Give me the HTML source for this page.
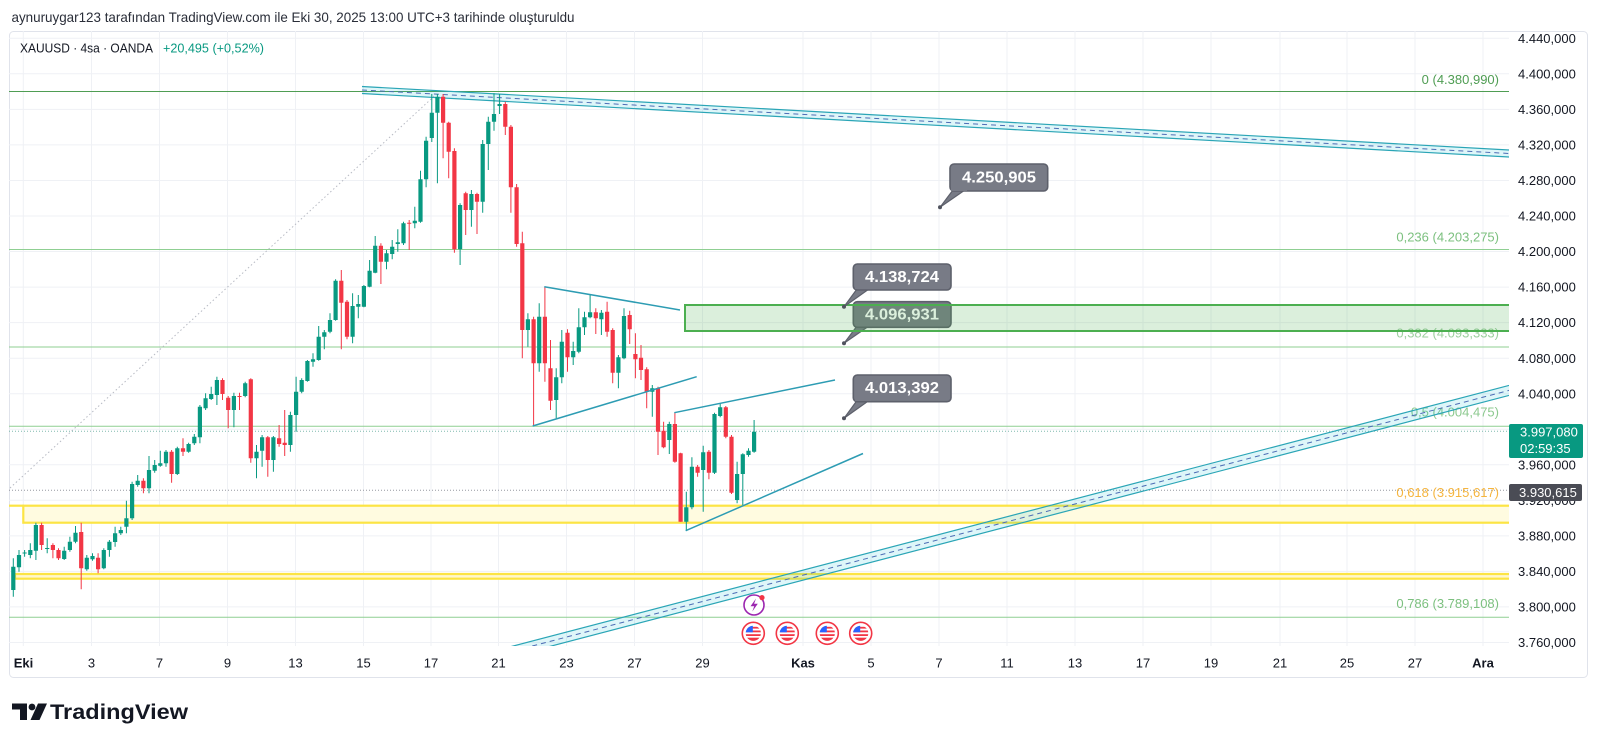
<!DOCTYPE html>
<html><head><meta charset="utf-8"><style>
html,body{margin:0;padding:0;background:#fff;}
svg{display:block;font-family:"Liberation Sans",sans-serif;}
</style></head><body>
<svg width="1600" height="745" viewBox="0 0 1600 745" xmlns="http://www.w3.org/2000/svg">
<defs>
<clipPath id="plot"><rect x="9" y="31" width="1500" height="615"/></clipPath>
<clipPath id="fc"><circle cx="0" cy="0" r="7.6"/></clipPath>
<symbol id="flag" viewBox="-12 -12 24 24" overflow="visible">
<circle r="11" fill="#fff" stroke="#f23645" stroke-width="1.6"/>
<g clip-path="url(#fc)">
<rect x="-8" y="-8" width="16" height="16" fill="#fff"/>
<rect x="-8" y="-6.5" width="16" height="1.8" fill="#f23645"/>
<rect x="-8" y="-2.8" width="16" height="1.8" fill="#f23645"/>
<rect x="-8" y="0.9" width="16" height="1.8" fill="#f23645"/>
<rect x="-8" y="4.4" width="16" height="4" fill="#f23645"/>
<rect x="-8" y="-8" width="7.5" height="7" fill="#2962ff"/>
</g>
</symbol>
</defs>
<rect width="1600" height="745" fill="#fff"/>
<text x="11.5" y="22" font-size="14" fill="#2a2e39" textLength="563" lengthAdjust="spacingAndGlyphs">aynuruygar123 tarafından TradingView.com ile Eki 30, 2025 13:00 UTC+3 tarihinde oluşturuldu</text>
<rect x="9.5" y="31.5" width="1578" height="646" rx="4" fill="none" stroke="#e0e3eb"/>
<g stroke="#eff1f5" stroke-width="1">
<path d="M9 38.3H1509M9 73.8H1509M9 109.4H1509M9 144.9H1509M9 180.5H1509M9 216H1509M9 251.5H1509M9 287.1H1509M9 322.6H1509M9 358.2H1509M9 393.7H1509M9 429.2H1509M9 464.8H1509M9 500.3H1509M9 535.9H1509M9 571.4H1509M9 606.9H1509M9 642.5H1509"/>
<path d="M23.3 31V646M91.5 31V646M159.5 31V646M227.5 31V646M295.5 31V646M363.5 31V646M431 31V646M498.5 31V646M566.5 31V646M634.5 31V646M702.5 31V646M803 31V646M871 31V646M939 31V646M1007 31V646M1075 31V646M1143 31V646M1211 31V646M1280 31V646M1347 31V646M1415 31V646M1483 31V646"/>
</g>
<g clip-path="url(#plot)">
<!-- fib lines -->
<path d="M9 91.5H1509" stroke="#4f9d53" stroke-width="1"/>
<path d="M9 249.5H1509M9 347H1509M9 426.3H1509M9 617.3H1509" stroke="#8fcf92" stroke-width="1"/>
<path d="M10 488L436.5 94" stroke="#b8bbc4" stroke-width="1" stroke-dasharray="1.5 2.5"/>
<!-- price lines -->
<path d="M9 431.3H1509" stroke="#7fb9ad" stroke-width="1" stroke-dasharray="1 2"/>
<path d="M9 490.3H1509" stroke="#9598a1" stroke-width="1" stroke-dasharray="1 2"/>
<!-- fib labels -->
<g font-size="13" text-anchor="end">
<text x="1499" y="84" fill="#4f9d53">0 (4.380,990)</text>
<text x="1499" y="241.4" fill="#7cc07f">0,236 (4.203,275)</text>
<text x="1499" y="337.7" fill="#9ccf9e">0,382 (4.093,333)</text>
<text x="1499" y="416.4" fill="#8cc98f">0,5 (4.004,475)</text>
<text x="1499" y="497" fill="#f5b53f">0,618 (3.915,617)</text>
<text x="1499" y="608" fill="#7cc07f">0,786 (3.789,108)</text>
</g>
<!-- yellow boxes -->
<rect x="23.3" y="505.7" width="1490" height="17" fill="#fffbe0" stroke="#fce444" stroke-width="2.2"/>
<path d="M9 505.7H24" stroke="#fce444" stroke-width="2.2"/>
<rect x="15" y="574" width="1500" height="4.7" fill="#fff7cc" stroke="#fce444" stroke-width="2.2"/>
<!-- channels -->
<polygon points="362,86.5 1509,150 1509,157 362,93.5" fill="#00bcd4" fill-opacity="0.13"/>
<path d="M362 86.5L1509 150M362 93.5L1509 157" stroke="#2aa5b6" stroke-width="1.2" fill="none"/>
<path d="M362 90L1509 153.5" stroke="#4d6db5" stroke-width="1" stroke-dasharray="5 4"/>
<polygon points="480,654.7 1509,385.4 1509,395.4 480,664.7" fill="#00bcd4" fill-opacity="0.13"/>
<path d="M480 654.7L1509 385.4M480 664.7L1509 395.4" stroke="#2aa5b6" stroke-width="1.2" fill="none"/>
<path d="M480 659.7L1509 390.4" stroke="#4d6db5" stroke-width="1" stroke-dasharray="5 4"/>
<!-- candles -->
<path stroke="#089981" stroke-width="1" fill="none" d="M13.3 558.3V596.7M19 550V571.7M24.6 550V556.7M30.3 543.3V558.3M35.9 522.7V560M47.2 538.3V553.3M64.2 546.7V560M69.9 536.7V551.7M75.5 526V543.3M86.8 555V570.7M92.5 553.3V560.7M103.8 548.3V569.3M109.4 540V556.7M115.1 526.7V546.7M120.8 526.7V535M126.4 500.7V533.3M132.1 481.7V520M137.7 475V486.7M149 456V493.3M154.7 460V472.7M160.3 450.7V466.7M166 450V466.7M177.3 446.7V475M188.6 442.7V452.7M194.3 434V445M199.9 405V443.3M205.6 393.3V410M211.2 386.7V400M216.9 376.7V405M233.9 392.7V427.3M245.2 381.7V397.3M256.5 445V478.3M262.1 435V466.7M273.4 436V471.7M290.4 411.7V451.7M296.1 376.7V431.7M301.7 378.3V393.3M307.4 360V381.7M313 353.3V366.7M318.7 326V360.7M324.3 330V349.3M330 313.3V333.3M335.6 279.3V320.7M352.6 293.3V343.3M358.3 295V318.3M363.9 285V307.3M369.6 260V287.3M375.2 236V273.3M386.5 250V269.3M392.2 240V259.3M397.8 229.3V251.7M403.5 221.7V245M414.8 206.7V228.3M420.5 170.7V222.7M426.1 136.7V187.3M431.8 94V142M437.4 94V183.3M460.1 203.3V265M471.4 190V226.7M482.7 140V212.7M488.3 116.7V170M494 93.3V130.7M499.6 94V114M527.9 313.3V346.7M539.2 303.3V371.7M556.2 368.3V418.3M561.8 330V383.3M573.2 341.7V365M578.8 308.3V353.3M584.5 311.7V335M590.1 295V318.3M601.4 310V335M618.4 355V388.3M624 308.3V359.3M652.3 385V416.7M669.3 421.7V454M686.3 491.7V530.7M691.9 457.3V509.3M703.2 445.7V511.7M714.5 412.7V474M720.2 403.3V417.3M737.1 461.7V503.3M742.8 453.3V505M748.5 448.3V456.7M754.1 420V452.7"/>
<path stroke="#089981" stroke-width="4.2" fill="none" d="M13.3 566.7V590M19 555V567.3M24.6 552.5V553.5M30.3 550V555M35.9 525V550.7M47.2 548V549M64.2 550.7V559M69.9 541.7V550M75.5 532.7V541.7M86.8 557.7V569.3M92.5 556V559.3M103.8 550V568.3M109.4 541.7V550M115.1 533.3V542M120.8 530V533.3M126.4 518.3V526.7M132.1 484V518.3M137.7 480.7V485M149 470V488.3M154.7 465V470.7M160.3 463.3V465.7M166 451.7V463.3M177.3 448.3V474M188.6 444V451.7M194.3 436.7V443.3M199.9 406.7V437.3M205.6 398.3V408.3M211.2 394V399M216.9 380V395M233.9 396V410M245.2 383.3V396M256.5 451.7V458.3M262.1 437.3V450.7M273.4 437.3V460M290.4 415V445M296.1 391.7V415M301.7 380V391.7M307.4 361V381M313 359.3V361.7M318.7 336.7V360M324.3 332.3V336.7M330 320V331.7M335.6 280.7V320M352.6 306V336.7M358.3 304V306.7M363.9 286V306.7M369.6 270.7V286.7M375.2 245.7V272.7M386.5 253.3V261.7M392.2 246.7V254M397.8 242.3V244M403.5 223.3V243.3M414.8 220.7V223.3M420.5 179.3V221.7M426.1 140.7V179.3M431.8 112.7V138M437.4 96.7V112.7M460.1 205V249.3M471.4 194V210M482.7 144V201.7M488.3 121.7V144M494 114V121.7M499.6 104V106M527.9 319.3V330M539.2 316.7V363.3M556.2 377.3V400M561.8 341.7V377.3M573.2 351V357.3M578.8 327.3V351.7M584.5 317.3V327.3M590.1 312.3V317.3M601.4 312.7V319.3M618.4 357.3V372.7M624 316V358.3M652.3 388.3V391.7M669.3 424V440M686.3 507.3V521.7M691.9 466.7V507.3M703.2 452.3V470M714.5 414V472.7M720.2 407.3V416M737.1 474V500M742.8 454.3V474M748.5 450.7V455M754.1 431.7V451.7"/>
<path stroke="#f23645" stroke-width="1" fill="none" d="M41.6 522.7V550M52.9 543.3V558.3M58.5 548.3V560M81.2 522.7V589.3M98.1 553.3V573.3M143.4 478.3V493.3M171.6 450V482.7M183 438.3V456M222.5 378.3V400M228.2 396V428.3M239.5 392.7V410M250.8 378.3V462.7M267.8 436V476.7M279.1 425V446.7M284.7 410V456M341.3 270V349.3M347 300V339.3M380.9 243.3V284M409.2 220V250M443.1 94V158.3M448.7 121.7V178.3M454.4 148.3V252.7M465.7 191.7V235M477 192.7V234M505.3 101.7V135M510.9 125V212.7M516.6 184V246.7M522.3 231.7V358.3M533.6 316.7V426M544.9 286.7V381.7M550.5 340V410M567.5 329.3V371.7M595.8 308.3V334M607.1 301.7V336.7M612.7 328.3V383.3M629.7 310.7V344M635.4 333.3V378.3M641 345V380M646.7 367.3V408.3M658 386.7V455M663.6 421.7V448.3M674.9 412.7V462.7M680.6 452.7V521.7M697.6 465V476.7M708.9 450V479.3M725.8 406V438.3M731.5 435V494"/>
<path stroke="#f23645" stroke-width="4.2" fill="none" d="M41.6 525V545M52.9 545V550M58.5 550V558.3M81.2 532V568.3M98.1 557.7V569.3M143.4 480.7V488.3M171.6 451.7V474M183 448.3V451.7M222.5 380V394M228.2 397.7V410M239.5 396V397M250.8 379.3V458.3M267.8 437.3V460M279.1 438.3V444M284.7 442.7V445M341.3 280.7V302.7M347 301.7V336.7M380.9 245.7V261.7M409.2 222.7V223.7M443.1 96.7V122.7M448.7 122.7V151.7M454.4 151V249.3M465.7 193.3V210M477 194V201.7M505.3 104V126.7M510.9 126.7V187.3M516.6 187.3V244M522.3 243.3V330M533.6 319.3V363.3M544.9 316.7V363.3M550.5 368.3V400.7M567.5 332.7V357.3M595.8 312.3V318.3M607.1 311.7V331.7M612.7 330V372.7M629.7 315V329.3M635.4 354V359.3M641 357.7V370M646.7 369.3V391.7M658 388.3V431.7M663.6 430.7V447.3M674.9 424V461.7M680.6 453.3V521.7M697.6 466.7V472.7M708.9 451.7V472.7M725.8 407.3V436.7M731.5 436.7V492.7"/>
<!-- triangle lines -->
<path d="M544.3 286.7L680 310M532.7 426L696.7 376.7M674.3 412.7L835 380M685.7 530.7L863 453.5" stroke="#2d9cb3" stroke-width="1.5" fill="none"/>
<!-- callouts -->
<g font-size="16" font-weight="bold" fill="#fff" text-anchor="middle">
<g>
<polygon points="953,190 965,190 940,207.3" fill="#787b86" stroke="#5d606b" stroke-width="1.2"/>
<rect x="950" y="164" width="97.7" height="27" rx="4" fill="#787b86" stroke="#5d606b" stroke-width="1.6"/>
<rect x="951" y="188" width="16" height="3" fill="#787b86"/>
<circle cx="940" cy="207.3" r="2" fill="#50535e"/>
<text x="999" y="182.5" textLength="74" lengthAdjust="spacingAndGlyphs">4.250,905</text>
</g>
<g>
<polygon points="857,326 869,326 844,343.3" fill="#787b86" stroke="#5d606b" stroke-width="1.2"/>
<rect x="853.3" y="301.7" width="97.7" height="25.6" rx="4" fill="#787b86" stroke="#5d606b" stroke-width="1.6"/>
<circle cx="844" cy="343.3" r="2" fill="#50535e"/>
<text x="902" y="319.5" textLength="74" lengthAdjust="spacingAndGlyphs">4.096,931</text>
</g>
</g>
<!-- green box -->
<rect x="685" y="305" width="830" height="26" fill="#4caf50" fill-opacity="0.2" stroke="#4caf50" stroke-width="2"/>
<g font-size="16" font-weight="bold" fill="#fff" text-anchor="middle">
<g>
<polygon points="857,289 869,289 844,306.7" fill="#787b86" stroke="#5d606b" stroke-width="1.2"/>
<rect x="853.3" y="264" width="97.7" height="26" rx="4" fill="#787b86" stroke="#5d606b" stroke-width="1.6"/>
<rect x="855" y="286" width="16" height="3" fill="#787b86"/>
<circle cx="844" cy="306.7" r="2" fill="#50535e"/>
<text x="902" y="282" textLength="74" lengthAdjust="spacingAndGlyphs">4.138,724</text>
</g>
<g>
<polygon points="857,400.5 869,400.5 844,418.3" fill="#787b86" stroke="#5d606b" stroke-width="1.2"/>
<rect x="853.3" y="375" width="97.7" height="26.7" rx="4" fill="#787b86" stroke="#5d606b" stroke-width="1.6"/>
<rect x="855" y="398" width="16" height="3" fill="#787b86"/>
<circle cx="844" cy="418.3" r="2" fill="#50535e"/>
<text x="902" y="393" textLength="74" lengthAdjust="spacingAndGlyphs">4.013,392</text>
</g>
</g>
<!-- event icons -->
<circle cx="754" cy="605" r="10" fill="#fff" stroke="#9c27b0" stroke-width="1.6"/>
<path d="M756 598.5L750.5 606.2H754.2L752.3 611.5L757.8 603.8H754.1Z" fill="#9c27b0"/>
<circle cx="762" cy="597.6" r="2.6" fill="#f23645"/>
<use href="#flag" x="741.3" y="621.3" width="24" height="24"/>
<use href="#flag" x="775.3" y="621.3" width="24" height="24"/>
<use href="#flag" x="815.3" y="621.3" width="24" height="24"/>
<use href="#flag" x="848.7" y="621.3" width="24" height="24"/>
</g>
<!-- header -->
<text x="20" y="52.5" font-size="13" fill="#131722" textLength="133" lengthAdjust="spacingAndGlyphs">XAUUSD · 4sa · OANDA</text>
<text x="163" y="52.5" font-size="13" fill="#089981" textLength="101" lengthAdjust="spacingAndGlyphs">+20,495 (+0,52%)</text>
<!-- price axis -->
<g font-size="13" fill="#131722">
<text x="1518" y="42.9">4.440,000</text>
<text x="1518" y="78.4">4.400,000</text>
<text x="1518" y="114">4.360,000</text>
<text x="1518" y="149.5">4.320,000</text>
<text x="1518" y="185.1">4.280,000</text>
<text x="1518" y="220.6">4.240,000</text>
<text x="1518" y="256.1">4.200,000</text>
<text x="1518" y="291.7">4.160,000</text>
<text x="1518" y="327.2">4.120,000</text>
<text x="1518" y="362.8">4.080,000</text>
<text x="1518" y="398.3">4.040,000</text>
<text x="1518" y="433.8">4.000,000</text>
<text x="1518" y="469.4">3.960,000</text>
<text x="1518" y="504.9">3.920,000</text>
<text x="1518" y="540.5">3.880,000</text>
<text x="1518" y="576">3.840,000</text>
<text x="1518" y="611.5">3.800,000</text>
<text x="1518" y="647.1">3.760,000</text>
</g>
<rect x="1509" y="424" width="74" height="34" rx="2" fill="#089981"/>
<text x="1520" y="436.5" font-size="13" fill="#fff">3.997,080</text>
<text x="1520" y="453" font-size="13" fill="#fff">02:59:35</text>
<rect x="1509" y="484" width="73" height="17" rx="2" fill="#4a4c55"/>
<text x="1519" y="497" font-size="13" fill="#fff">3.930,615</text>
<!-- time axis -->
<g font-size="13" fill="#131722" text-anchor="middle">
<text x="23.5" y="667.5" font-weight="bold">Eki</text>
<text x="91.5" y="667.5">3</text>
<text x="159.5" y="667.5">7</text>
<text x="227.5" y="667.5">9</text>
<text x="295.5" y="667.5">13</text>
<text x="363.5" y="667.5">15</text>
<text x="431" y="667.5">17</text>
<text x="498.5" y="667.5">21</text>
<text x="566.5" y="667.5">23</text>
<text x="634.5" y="667.5">27</text>
<text x="702.5" y="667.5">29</text>
<text x="803" y="667.5" font-weight="bold">Kas</text>
<text x="871" y="667.5">5</text>
<text x="939" y="667.5">7</text>
<text x="1007" y="667.5">11</text>
<text x="1075" y="667.5">13</text>
<text x="1143" y="667.5">17</text>
<text x="1211" y="667.5">19</text>
<text x="1280" y="667.5">21</text>
<text x="1347" y="667.5">25</text>
<text x="1415" y="667.5">27</text>
<text x="1483" y="667.5" font-weight="bold">Ara</text>
</g>
<!-- TradingView logo -->
<g fill="#131722">
<path d="M12 703.5H27V720H20V709.5H12Z"/>
<circle cx="32" cy="707" r="3.4"/>
<path d="M38 703.5H47L39.5 720H30.5Z"/>
</g>
<text x="50" y="719" font-size="21" font-weight="bold" fill="#131722" textLength="138" lengthAdjust="spacingAndGlyphs">TradingView</text>
</svg>
</body></html>
